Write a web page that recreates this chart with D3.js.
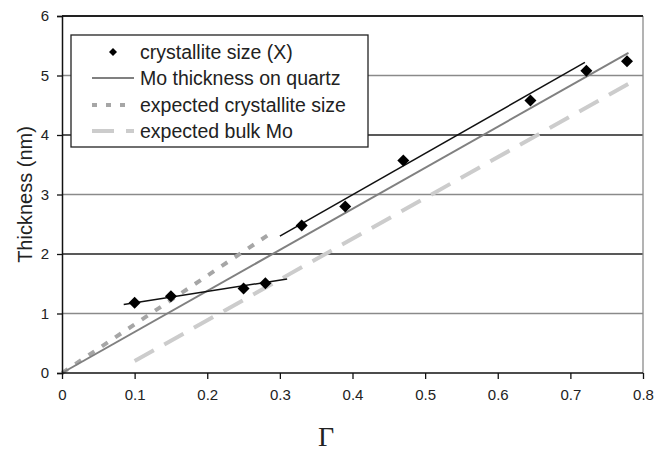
<!DOCTYPE html>
<html>
<head>
<meta charset="utf-8">
<script src="https://cdn.jsdelivr.net/npm/d3@7"></script>
<style>
  body { margin: 0; background: #fff; }
  svg { display: block; font-family: "Liberation Sans", Arial, sans-serif; }
</style>
</head>
<body>
<svg id="chart" width="667" height="454"></svg>
<script>
// measured points (gamma, thickness nm)
const gammaPts = [0.1, 0.15, 0.25, 0.28, 0.33, 0.39, 0.47, 0.645, 0.722, 0.778];
const crystPts = [1.18, 1.29, 1.42, 1.51, 2.48, 2.8, 3.57, 4.58, 5.08, 5.24];

// fit lines through the two groups of points
const fitLow = [[0.085, 1.15], [0.31, 1.58]];
const fitHigh = [[0.3, 2.3], [0.72, 5.22]];

const quartzLine = [[0, 0], [0.78, 5.38]];
const expCrystLine = [[0, 0], [0.29, 2.37]];
const expBulkLine = [[0.1, 0.2], [0.78, 4.86]];

const xTicks = [0, 0.1, 0.2, 0.3, 0.4, 0.5, 0.6, 0.7, 0.8];
const yTicks = [0, 1, 2, 3, 4, 5, 6];

const legendLabels = [
  "crystallite size (X)",
  "Mo thickness on quartz",
  "expected crystallite size",
  "expected bulk Mo",
];

const MARGIN = { LEFT: 62, RIGHT: 24, TOP: 16, BOTTOM: 81 };
const width = 667,
  height = 454;

let svg = d3.select("#chart");

let x = d3
  .scaleLinear()
  .domain([0, 0.8])
  .range([MARGIN.LEFT, width - MARGIN.RIGHT]);
let y = d3
  .scaleLinear()
  .domain([0, 6])
  .range([height - MARGIN.BOTTOM, MARGIN.TOP]);

// horizontal gridlines (alternating tones like the scan)
svg
  .append("g")
  .selectAll("line")
  .data(yTicks.slice(1))
  .enter()
  .append("line")
  .attr("x1", x(0))
  .attr("x2", x(0.8))
  .attr("y1", (d) => y(d))
  .attr("y2", (d) => y(d))
  .attr("stroke", (d) => (d % 2 === 1 ? "#8a8a8a" : "#222"))
  .attr("stroke-width", 1.3);

// right border
svg
  .append("line")
  .attr("x1", x(0.8))
  .attr("x2", x(0.8))
  .attr("y1", y(6))
  .attr("y2", y(0))
  .attr("stroke", "#8a8a8a")
  .attr("stroke-width", 1.3);

let line = d3
  .line()
  .x((d) => x(d[0]))
  .y((d) => y(d[1]));

// expected bulk Mo (long dashes)
svg
  .append("path")
  .attr("d", line(expBulkLine))
  .attr("fill", "none")
  .attr("stroke", "#cccccc")
  .attr("stroke-width", 4)
  .attr("stroke-dasharray", "22,12");

// expected crystallite size (short dashes)
svg
  .append("path")
  .attr("d", line(expCrystLine))
  .attr("fill", "none")
  .attr("stroke", "#a6a6a6")
  .attr("stroke-width", 4)
  .attr("stroke-dasharray", "7,9");

// Mo thickness on quartz
svg
  .append("path")
  .attr("d", line(quartzLine))
  .attr("fill", "none")
  .attr("stroke", "#808080")
  .attr("stroke-width", 2);

// fits
[fitLow, fitHigh].forEach((f) => {
  svg
    .append("path")
    .attr("d", line(f))
    .attr("fill", "none")
    .attr("stroke", "#111")
    .attr("stroke-width", 1.5);
});

// diamonds
const diamond = "M0,-6L6,0L0,6L-6,0Z";
svg
  .append("g")
  .selectAll("path")
  .data(gammaPts)
  .enter()
  .append("path")
  .attr("d", diamond)
  .attr("transform", (d, i) => "translate(" + x(d) + "," + y(crystPts[i]) + ")")
  .attr("fill", "#000");

// axes
let xAxis = d3
  .axisBottom(x)
  .tickValues(xTicks)
  .tickSize(6)
  .tickPadding(10)
  .tickFormat((d) => (d === 0 ? "0" : d3.format(".1f")(d)));
let gx = svg
  .append("g")
  .attr("transform", "translate(0," + y(0) + ")")
  .call(xAxis);

let yAxis = d3
  .axisLeft(y)
  .tickValues(yTicks)
  .tickSize(5)
  .tickPadding(8)
  .tickFormat(d3.format("d"));
let gy = svg
  .append("g")
  .attr("transform", "translate(" + x(0) + ",0)")
  .call(yAxis);

[gx, gy].forEach((g) => {
  g.select(".domain").attr("stroke", "#111").attr("stroke-width", 1.5);
  g.selectAll(".tick line").attr("stroke", "#111").attr("stroke-width", 1.3);
  g.selectAll(".tick text")
    .attr("font-size", 15)
    .attr("fill", "#222")
    .attr("font-family", "Liberation Sans, Arial, sans-serif");
});
gx.select(".domain").attr("d", "M" + x(0) + ",0H" + x(0.8));

// top border
svg
  .append("line")
  .attr("x1", x(0))
  .attr("x2", x(0.8))
  .attr("y1", y(6))
  .attr("y2", y(6))
  .attr("stroke", "#111")
  .attr("stroke-width", 1.3);

// axis titles
svg
  .append("text")
  .attr("x", 326)
  .attr("y", 446)
  .attr("text-anchor", "middle")
  .attr("font-family", "Liberation Serif, Times New Roman, serif")
  .attr("font-size", 28)
  .attr("fill", "#222")
  .text("Γ");

svg
  .append("text")
  .attr("transform", "translate(32," + y(3) + ") rotate(-90)")
  .attr("text-anchor", "middle")
  .attr("font-size", 20)
  .attr("fill", "#222")
  .text("Thickness (nm)");

// legend
let legend = svg.append("g").attr("transform", "translate(71,35)");
legend
  .append("rect")
  .attr("width", 297)
  .attr("height", 112)
  .attr("fill", "#fff")
  .attr("stroke", "#222")
  .attr("stroke-width", 1.3);

const rowY = [17, 43, 70, 96];
legend
  .selectAll("text")
  .data(legendLabels)
  .enter()
  .append("text")
  .attr("x", 69)
  .attr("y", (d, i) => rowY[i])
  .attr("dy", "0.35em")
  .attr("font-size", 19.5)
  .attr("fill", "#222")
  .text((d) => d);

legend
  .append("path")
  .attr("d", "M0,-4L4,0L0,4L-4,0Z")
  .attr("transform", "translate(42," + rowY[0] + ")")
  .attr("fill", "#000");
legend
  .append("line")
  .attr("x1", 21)
  .attr("x2", 63)
  .attr("y1", rowY[1])
  .attr("y2", rowY[1])
  .attr("stroke", "#808080")
  .attr("stroke-width", 2);
legend
  .append("line")
  .attr("x1", 21)
  .attr("x2", 63)
  .attr("y1", rowY[2])
  .attr("y2", rowY[2])
  .attr("stroke", "#a6a6a6")
  .attr("stroke-width", 4)
  .attr("stroke-dasharray", "5,9");
legend
  .append("line")
  .attr("x1", 21)
  .attr("x2", 63)
  .attr("y1", rowY[3])
  .attr("y2", rowY[3])
  .attr("stroke", "#cccccc")
  .attr("stroke-width", 4)
  .attr("stroke-dasharray", "22,12");
</script>
</body>
</html>
